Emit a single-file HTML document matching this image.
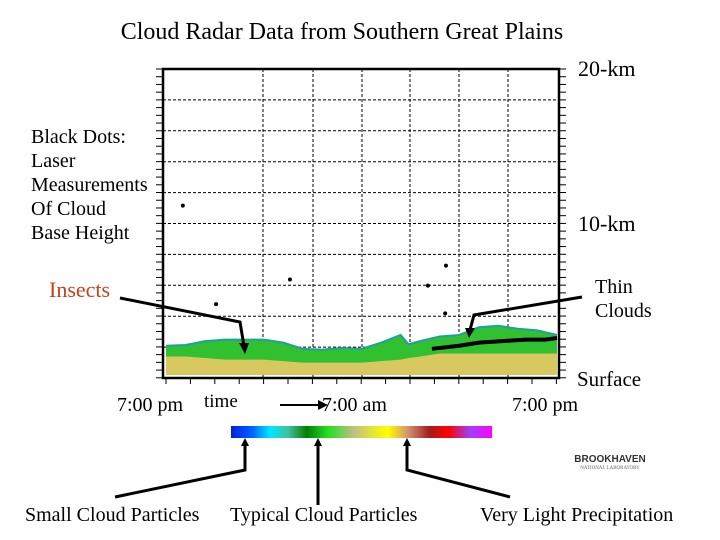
<!DOCTYPE html>
<html><head><meta charset="utf-8"><style>
body{margin:0;background:#fff}
svg{display:block}
text{font-family:"Liberation Serif",serif;fill:#000}
</style></head><body>
<svg id="c" width="720" height="540" viewBox="0 0 720 540">
<text x="342" y="39" font-size="24" text-anchor="middle">Cloud Radar Data from Southern Great Plains</text>
<g id="grid"></g>
<g id="radar"></g>
<g id="dots"></g>
<rect x="163" y="69" width="396" height="309" fill="none" stroke="#000" stroke-width="2.5"/>
<g id="ticks"></g>
<text x="578" y="76" font-size="22">20-km</text>
<text x="578" y="231" font-size="22">10-km</text>
<text x="577" y="386" font-size="21">Surface</text>
<g font-size="20">
<text x="31" y="143">Black Dots:</text><text x="31" y="167">Laser</text><text x="31" y="191">Measurements</text><text x="31" y="215">Of Cloud</text><text x="31" y="239">Base Height</text></g>
<text x="49" y="297" font-size="22" style="fill:#c8401a">Insects</text>
<text x="595" y="293" font-size="20">Thin</text>
<text x="595" y="317" font-size="20">Clouds</text>
<g stroke="#000" stroke-width="3" fill="none">
<polyline points="120,298 240,322 244,346"/>
<polyline points="582,297 474,315 470,330"/>
<polyline points="245,443 245,470 115,497"/>
<line x1="318" y1="443" x2="318" y2="505"/>
<polyline points="407,443 407,470 510,497"/>
<line x1="280" y1="405" x2="318" y2="405" stroke-width="2"/>
</g>
<g fill="#000">
<polygon points="239,343 249,343 245,354"/><polygon points="465,328 475,328 469,338"/>
<polygon points="241,446 249,446 245,438"/><polygon points="314,446 322,446 318,438"/><polygon points="403,446 411,446 407,438"/>
<polygon points="318,400 328,405 318,410"/>
</g>
<text x="117" y="411" font-size="20">7:00 pm</text>
<text x="204" y="407" font-size="19">time</text>
<text x="322" y="411" font-size="20">7:00 am</text>
<text x="512" y="411" font-size="20">7:00 pm</text>
<defs><linearGradient id="cb" x1="0" x2="1">
<stop offset="0" stop-color="#0020e0"/><stop offset="0.08" stop-color="#0060ff"/><stop offset="0.15" stop-color="#00e8ff"/><stop offset="0.22" stop-color="#40c0a0"/><stop offset="0.29" stop-color="#008000"/><stop offset="0.37" stop-color="#20e020"/><stop offset="0.47" stop-color="#c0c080"/><stop offset="0.6" stop-color="#ffff00"/><stop offset="0.68" stop-color="#d09070"/><stop offset="0.76" stop-color="#a02020"/><stop offset="0.83" stop-color="#ff0000"/><stop offset="0.92" stop-color="#a040ff"/><stop offset="1" stop-color="#ff00ff"/></linearGradient></defs>
<rect x="231" y="426" width="261" height="12" fill="url(#cb)"/>
<text x="25" y="521" font-size="20">Small Cloud Particles</text>
<text x="230" y="521" font-size="20">Typical Cloud Particles</text>
<text x="480" y="521" font-size="20">Very Light Precipitation</text>
<text x="610" y="462" font-size="10" font-weight="bold" text-anchor="middle" style="font-family:'Liberation Sans',sans-serif;fill:#333">BROOKHAVEN</text>
<text x="610" y="469" font-size="5" text-anchor="middle" style="fill:#666">NATIONAL LABORATORY</text>
</svg>
<script>
// data: cloud top heights (km) along time (fraction of day, 0..1), lower (yellow) layer top, and laser cloud base
const timePts=[0,0.05,0.1,0.15,0.2,0.25,0.3,0.35,0.4,0.45,0.5,0.55,0.6,0.62,0.65,0.7,0.75,0.8,0.85,0.9,0.95,1];
const cloudTop=[1.9,1.95,2.2,2.3,2.3,2.3,2.1,1.7,1.65,1.75,1.7,2.1,2.6,2.0,2.2,2.5,2.6,3.1,3.2,3.0,2.9,2.6];
const lowerTop=[1.2,1.2,1.1,1.0,1.0,1.0,0.9,0.8,0.8,0.8,0.8,0.9,1.0,1.1,1.2,1.4,1.4,1.4,1.4,1.4,1.4,1.4];
const baseT=[0.68,0.75,0.8,0.86,0.92,0.97,1.0];
const baseH=[1.7,1.9,2.1,2.2,2.3,2.3,2.4];
const isoT=[0.043,0.128,0.317,0.67,0.714,0.716];
const isoH=[11.0,4.6,6.2,5.8,4.0,7.1];
const ns='http://www.w3.org/2000/svg';
const X=t=>166+t*391, Y=h=>375-h*15.4;
function mk(tag,at,p){const e=document.createElementNS(ns,tag);for(const k in at)e.setAttribute(k,at[k]);p.appendChild(e);return e;}
const grid=document.getElementById('grid');
[263,313,362,410,459,508].forEach(x=>{const l=mk('line',{x1:x,y1:69,x2:x,y2:378,stroke:'#000','stroke-dasharray':'3,2','stroke-width':1},grid);

});
for(let i=1;i<10;i++){const y=69+i*30.9;const l=mk('line',{x1:163,y1:y,x2:559,y2:y,stroke:'#000','stroke-dasharray':'3,2','stroke-width':1},grid);

}
const tk=document.getElementById('ticks');
for(let i=0;i<=40;i++){const y=69+i*7.72;mk('line',{x1:156,y1:y,x2:163,y2:y,stroke:'#000'},tk);mk('line',{x1:559,y1:y,x2:566,y2:y,stroke:'#000'},tk);}
for(let i=0;i<=16;i++){const x=166+i*24.4;mk('line',{x1:x,y1:378,x2:x,y2:384,stroke:'#000'},tk);}
const rg=document.getElementById('radar');
const base=375;
const topPts=timePts.map((t,i)=>X(t)+','+Y(cloudTop[i])).join(' ');
const g=mk('polygon',{points:X(0)+','+base+' '+topPts+' '+X(1)+','+base,fill:'#30c030'},rg);


const tp=mk('polyline',{points:topPts,fill:'none',stroke:'#20a0a0','stroke-width':2},rg);


const loPts=timePts.map((t,i)=>X(t)+','+Y(lowerTop[i])).join(' ');
const yl=mk('polygon',{points:X(0)+','+base+' '+loPts+' '+X(1)+','+base,fill:'#d8c860'},rg);


const dg=document.getElementById('dots');
const bl=mk('polyline',{points:baseT.map((t,i)=>X(t)+','+Y(baseH[i])).join(' '),fill:'none',stroke:'#000','stroke-width':4},dg);


isoT.forEach((t,i)=>{const d=mk('circle',{cx:X(t),cy:Y(isoH[i]),r:2,fill:'#000'},dg);

});
</script>
</body></html>
